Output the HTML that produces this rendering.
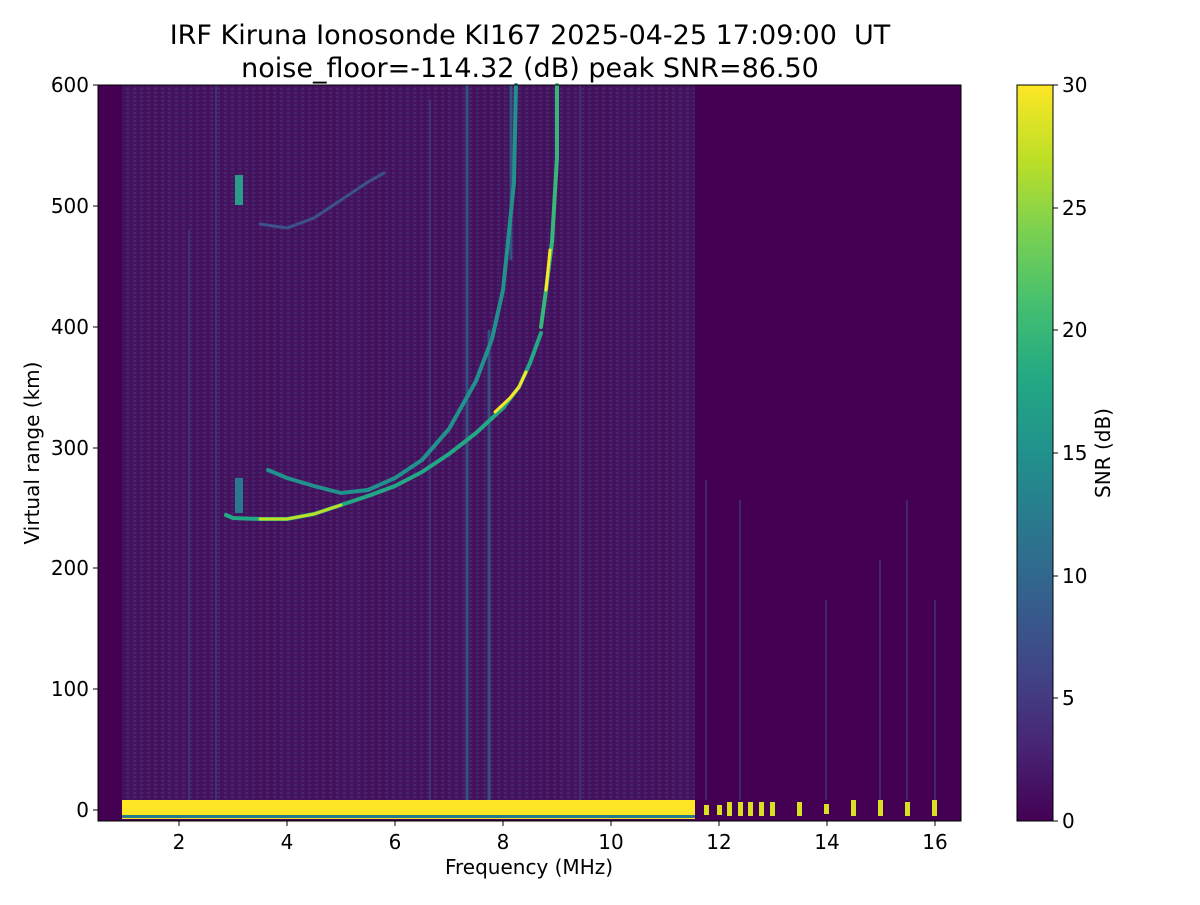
<!DOCTYPE html>
<html><head><meta charset="utf-8"><style>
body{margin:0;background:#fff;}
svg text{font-family:"DejaVu Sans","Liberation Sans",sans-serif;fill:#000;}
</style></head><body>
<svg width="1200" height="900" viewBox="0 0 1200 900" xmlns="http://www.w3.org/2000/svg">
<defs>
<linearGradient id="vir" x1="0" y1="1" x2="0" y2="0">
<stop offset="0" stop-color="#440154"/><stop offset="0.1" stop-color="#482475"/>
<stop offset="0.2" stop-color="#414487"/><stop offset="0.3" stop-color="#355f8d"/>
<stop offset="0.4" stop-color="#2a788e"/><stop offset="0.5" stop-color="#21918c"/>
<stop offset="0.6" stop-color="#22a884"/><stop offset="0.7" stop-color="#44bf70"/>
<stop offset="0.8" stop-color="#7ad151"/><stop offset="0.9" stop-color="#bddf26"/>
<stop offset="1" stop-color="#fde725"/></linearGradient>
<pattern id="noise" width="7" height="4" patternUnits="userSpaceOnUse">
<rect width="7" height="4" fill="#45145f"/><rect x="0" y="0" width="3" height="2" fill="#472470"/><rect x="4" y="2" width="3" height="1" fill="#440a58"/>
</pattern>
</defs>
<text x="530" y="44" font-size="27" text-anchor="middle">IRF Kiruna Ionosonde KI167 2025-04-25 17:09:00&#160; UT</text>
<text x="530" y="77" font-size="27" text-anchor="middle">noise_floor=-114.32 (dB) peak SNR=86.50</text>
<rect x="98" y="85" width="863" height="736" fill="#440154"/>
<rect x="122" y="85" width="573" height="715" fill="url(#noise)"/>
<g stroke="#3b4f8a" stroke-width="2" opacity="0.5">
<line x1="189" y1="230" x2="189" y2="800"/><line x1="216" y1="85" x2="216" y2="800"/>
<line x1="430" y1="100" x2="430" y2="800"/><line x1="580" y1="85" x2="580" y2="800"/>
<line x1="706" y1="480" x2="706" y2="800"/><line x1="740" y1="500" x2="740" y2="800"/>
<line x1="826" y1="600" x2="826" y2="800"/><line x1="880" y1="560" x2="880" y2="800"/>
<line x1="907" y1="500" x2="907" y2="800"/><line x1="935" y1="600" x2="935" y2="800"/>
</g>
<g stroke="#2f6c8e" stroke-width="3" opacity="0.7">
<line x1="467" y1="85" x2="467" y2="800"/><line x1="489" y1="330" x2="489" y2="800"/>
<line x1="511" y1="85" x2="511" y2="260"/>
</g>
<g fill="none" stroke-linecap="round" stroke-linejoin="round">
<polyline points="226,515 233,518 260,519 287,519 314,514 341,505 368,496 395,486 422,472 449,454 476,433 503,408 519,387 530,363 541,333" stroke="#22a884" stroke-width="4"/>
<polyline points="260,519 287,519 314,514 341,505" stroke="#bddf26" stroke-width="3"/>
<polyline points="495,412 510,398 519,387 526,372" stroke="#fde725" stroke-width="3"/>
<polyline points="268,470 287,478 314,486 341,493 368,490 395,478 422,460 449,429 476,381 492,339 503,290 508,242 514,182 516,85" stroke="#21918c" stroke-width="4"/>
<polyline points="541,327 546,290 552,242 557,158 557,85" stroke="#35b779" stroke-width="4"/>
<polyline points="546,290 550,250" stroke="#fde725" stroke-width="3"/>
<polyline points="260,224 287,228 314,218 341,200 368,182 384,173" stroke="#3b528b" stroke-width="3"/>
</g>
<rect x="235" y="175" width="8" height="30" fill="#2a9d8a"/>
<rect x="235" y="478" width="8" height="35" fill="#2a788e"/>
<rect x="122" y="800" width="573" height="19" fill="#fde725"/>
<rect x="122" y="815" width="573" height="3" fill="#2a788e"/>
<g fill="#d9e021">
<rect x="704" y="805" width="5" height="10"/><rect x="717" y="805" width="5" height="10"/>
<rect x="727" y="802" width="5" height="14"/><rect x="738" y="802" width="5" height="14"/>
<rect x="748" y="802" width="5" height="14"/><rect x="759" y="802" width="5" height="14"/>
<rect x="770" y="802" width="5" height="14"/><rect x="797" y="802" width="5" height="14"/>
<rect x="824" y="804" width="5" height="10"/><rect x="851" y="800" width="5" height="16"/>
<rect x="878" y="800" width="5" height="16"/><rect x="905" y="802" width="5" height="14"/>
<rect x="932" y="800" width="5" height="16"/>
</g>
<rect x="98" y="85" width="863" height="736" fill="none" stroke="#000" stroke-width="1"/>
<g stroke="#000" stroke-width="1">
<line x1="179" y1="821" x2="179" y2="826"/>
<line x1="287" y1="821" x2="287" y2="826"/><line x1="395" y1="821" x2="395" y2="826"/>
<line x1="503" y1="821" x2="503" y2="826"/><line x1="611" y1="821" x2="611" y2="826"/>
<line x1="719" y1="821" x2="719" y2="826"/><line x1="827" y1="821" x2="827" y2="826"/>
<line x1="935" y1="821" x2="935" y2="826"/>
<line x1="93" y1="810" x2="98" y2="810"/><line x1="93" y1="689" x2="98" y2="689"/>
<line x1="93" y1="568" x2="98" y2="568"/><line x1="93" y1="448" x2="98" y2="448"/>
<line x1="93" y1="327" x2="98" y2="327"/><line x1="93" y1="206" x2="98" y2="206"/>
<line x1="93" y1="85" x2="98" y2="85"/>
</g>
<g font-size="20" text-anchor="middle">
<text x="179" y="849">2</text><text x="287" y="849">4</text><text x="395" y="849">6</text>
<text x="503" y="849">8</text><text x="611" y="849">10</text><text x="719" y="849">12</text>
<text x="827" y="849">14</text><text x="935" y="849">16</text>
</g>
<g font-size="20" text-anchor="end">
<text x="89" y="817">0</text><text x="89" y="696">100</text><text x="89" y="575">200</text>
<text x="89" y="455">300</text><text x="89" y="334">400</text><text x="89" y="213">500</text>
<text x="89" y="92">600</text>
</g>
<text x="529" y="874" font-size="20" text-anchor="middle">Frequency (MHz)</text>
<text transform="translate(39,453) rotate(-90)" font-size="20" text-anchor="middle">Virtual range (km)</text>
<rect x="1017" y="85" width="36" height="736" fill="url(#vir)" stroke="#000" stroke-width="1"/>
<g stroke="#000"><line x1="1053" y1="821" x2="1058" y2="821"/><line x1="1053" y1="698" x2="1058" y2="698"/>
<line x1="1053" y1="576" x2="1058" y2="576"/><line x1="1053" y1="453" x2="1058" y2="453"/>
<line x1="1053" y1="330" x2="1058" y2="330"/><line x1="1053" y1="208" x2="1058" y2="208"/>
<line x1="1053" y1="85" x2="1058" y2="85"/></g>
<g font-size="20">
<text x="1062" y="828">0</text><text x="1062" y="705">5</text><text x="1062" y="583">10</text>
<text x="1062" y="460">15</text><text x="1062" y="337">20</text><text x="1062" y="215">25</text>
<text x="1062" y="92">30</text>
</g>
<text transform="translate(1110,453) rotate(-90)" font-size="20" text-anchor="middle">SNR (dB)</text>
</svg>
</body></html>
